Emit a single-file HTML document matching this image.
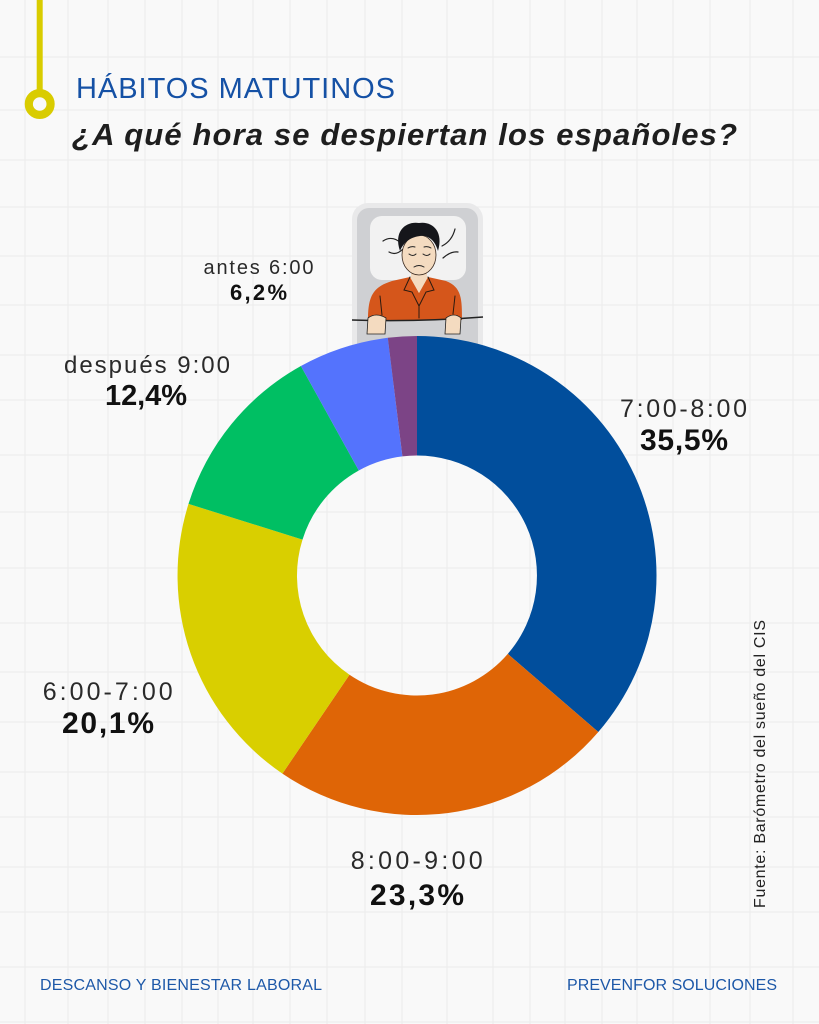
<!DOCTYPE html>
<html><head><meta charset="utf-8"><style>
html,body{margin:0;padding:0;background:#f9f9f9;}
svg{display:block;}
</style></head><body>
<svg width="819" height="1024" viewBox="0 0 819 1024" xmlns="http://www.w3.org/2000/svg">
<rect x="0" y="0" width="819" height="1024" fill="#f9f9f9"/>
<g stroke="#ececec" stroke-width="1">
<line x1="25" y1="0" x2="25" y2="1024"/><line x1="68" y1="0" x2="68" y2="1024"/><line x1="108" y1="0" x2="108" y2="1024"/><line x1="145" y1="0" x2="145" y2="1024"/><line x1="182" y1="0" x2="182" y2="1024"/><line x1="218" y1="0" x2="218" y2="1024"/><line x1="253" y1="0" x2="253" y2="1024"/><line x1="290" y1="0" x2="290" y2="1024"/><line x1="327" y1="0" x2="327" y2="1024"/><line x1="365" y1="0" x2="365" y2="1024"/><line x1="402" y1="0" x2="402" y2="1024"/><line x1="447" y1="0" x2="447" y2="1024"/><line x1="493" y1="0" x2="493" y2="1024"/><line x1="530" y1="0" x2="530" y2="1024"/><line x1="565" y1="0" x2="565" y2="1024"/><line x1="602" y1="0" x2="602" y2="1024"/><line x1="637" y1="0" x2="637" y2="1024"/><line x1="673" y1="0" x2="673" y2="1024"/><line x1="710" y1="0" x2="710" y2="1024"/><line x1="750" y1="0" x2="750" y2="1024"/><line x1="793" y1="0" x2="793" y2="1024"/>
<line x1="0" y1="57" x2="819" y2="57"/><line x1="0" y1="110" x2="819" y2="110"/><line x1="0" y1="160" x2="819" y2="160"/><line x1="0" y1="207" x2="819" y2="207"/><line x1="0" y1="256" x2="819" y2="256"/><line x1="0" y1="305" x2="819" y2="305"/><line x1="0" y1="355" x2="819" y2="355"/><line x1="0" y1="400" x2="819" y2="400"/><line x1="0" y1="455" x2="819" y2="455"/><line x1="0" y1="512" x2="819" y2="512"/><line x1="0" y1="568" x2="819" y2="568"/><line x1="0" y1="623" x2="819" y2="623"/><line x1="0" y1="672" x2="819" y2="672"/><line x1="0" y1="722" x2="819" y2="722"/><line x1="0" y1="772" x2="819" y2="772"/><line x1="0" y1="817" x2="819" y2="817"/><line x1="0" y1="867" x2="819" y2="867"/><line x1="0" y1="912" x2="819" y2="912"/><line x1="0" y1="967" x2="819" y2="967"/><line x1="0" y1="1022" x2="819" y2="1022"/>
</g>

<!-- yellow timeline marker -->
<rect x="36.7" y="0" width="6" height="93" fill="#d9cc00"/>
<circle cx="39.7" cy="104" r="10.9" fill="#f9f9f9" stroke="#d9cc00" stroke-width="8.2"/>

<!-- titles -->
<text x="76" y="98" font-family="Liberation Sans, sans-serif" font-size="29" fill="#1551a5" textLength="319" lengthAdjust="spacing">HÁBITOS MATUTINOS</text>
<text x="72" y="145" font-family="Liberation Sans, sans-serif" font-size="31" font-weight="bold" font-style="italic" fill="#1e1e1e" textLength="665" lengthAdjust="spacing">¿A qué hora se despiertan los españoles?</text>

<!-- illustration -->
<g>
<rect x="352" y="203" width="131" height="180" rx="16" fill="#e9e9ea"/>
<rect x="357" y="208" width="121" height="175" rx="12" fill="#cfd0d3"/>
<rect x="370" y="216" width="96" height="64" rx="12" fill="#f2f2f2"/>
<g fill="none" stroke="#222" stroke-width="1.2" stroke-linecap="round">
<path d="M383,241 q9,-6 18,2"/>
<path d="M389,252 q7,4 14,-3"/>
<path d="M455,229 q-3,12 -13,17"/>
<path d="M443,258 q8,-7 15,-6"/>
</g>
<rect x="411" y="266" width="16" height="16" fill="#f4dbc0"/>
<ellipse cx="419" cy="255" rx="17" ry="20" fill="#f4dbc0" stroke="#3a2a20" stroke-width="0.8"/>
<path d="M400,251 C393,230 407,221 419,223 C432,221 444,231 438,251 C435,240 428,235 420,236 C412,237 404,241 400,251 Z" fill="#15161b"/>
<g fill="none" stroke="#222" stroke-width="1" stroke-linecap="round">
<path d="M409,254 q4,3 7,0"/>
<path d="M423,254 q4,3 7,0"/>
<path d="M414,267 q5,-3 10,0"/>
<path d="M408,248 q3,-2 7,-1"/>
<path d="M424,247 q4,-1 7,1"/>
</g>
<path d="M368,320 C368,296 373,287 392,281 L410,277 L419,293 L428,277 L446,281 C462,287 462,300 462,320 Z" fill="#d5561b"/>
<path d="M410,277 L419,293 L428,277 Z" fill="#f4dbc0"/>
<g fill="none" stroke="#2a1a10" stroke-width="1" stroke-linecap="round">
<path d="M410,277 L404,290 L412,292 L419,306"/>
<path d="M428,277 L434,290 L426,292 L419,306"/>
<path d="M419,306 L419,318"/>
<path d="M380,296 L382,315"/>
<path d="M455,296 L453,314"/>
</g>
<path d="M352,320 Q419,322 483,317" fill="none" stroke="#222" stroke-width="1.5"/>
<path d="M367,334 L368,318 Q376,312 386,318 L385,334 Z" fill="#f4dbc0" stroke="#222" stroke-width="0.8"/>
<path d="M445,334 L446,318 Q454,312 461,318 L460,334 Z" fill="#f4dbc0" stroke="#222" stroke-width="0.8"/>
</g>

<!-- donut -->
<path d="M417,336 A239.5,239.5 0 0 1 598.3,732 L507.8,653.9 A120,120 0 0 0 417,455.5 Z" fill="#014e9c"/>
<path d="M598.3,732 A239.5,239.5 0 0 1 282.4,773.6 L349.5,674.8 A120,120 0 0 0 507.8,653.9 Z" fill="#df6506"/>
<path d="M282.4,773.6 A239.5,239.5 0 0 1 188.5,503.9 L302.5,539.6 A120,120 0 0 0 349.5,674.8 Z" fill="#d9cf00"/>
<path d="M188.5,503.9 A239.5,239.5 0 0 1 300.9,366 L358.8,470.5 A120,120 0 0 0 302.5,539.6 Z" fill="#00bf63"/>
<path d="M300.9,366 A239.5,239.5 0 0 1 387.8,337.8 L402.4,456.4 A120,120 0 0 0 358.8,470.5 Z" fill="#5473fd"/>
<path d="M387.8,337.8 A239.5,239.5 0 0 1 417,336 L417,455.5 A120,120 0 0 0 402.4,456.4 Z" fill="#7c4486"/>

<!-- labels -->
<g font-family="Liberation Sans, sans-serif" fill="#2a2a2a" text-anchor="middle">
<text x="258.5" y="274" font-size="20" textLength="110" lengthAdjust="spacing">antes 6:00</text>
<text x="258.5" y="300" font-size="22" font-weight="bold" fill="#111" textLength="57" lengthAdjust="spacing">6,2%</text>
<text x="147" y="373" font-size="24" textLength="166" lengthAdjust="spacing">después 9:00</text>
<text x="146" y="405" font-size="29" font-weight="bold" fill="#111" textLength="82" lengthAdjust="spacing">12,4%</text>
<text x="683.5" y="417" font-size="25" textLength="127" lengthAdjust="spacing">7:00-8:00</text>
<text x="684" y="450" font-size="30" font-weight="bold" fill="#111" textLength="88" lengthAdjust="spacing">35,5%</text>
<text x="107.7" y="700" font-size="25" textLength="130" lengthAdjust="spacing">6:00-7:00</text>
<text x="108" y="733" font-size="30" font-weight="bold" fill="#111" textLength="92" lengthAdjust="spacing">20,1%</text>
<text x="416.7" y="869" font-size="25" textLength="132" lengthAdjust="spacing">8:00-9:00</text>
<text x="417" y="905" font-size="30" font-weight="bold" fill="#111" textLength="94" lengthAdjust="spacing">23,3%</text>
</g>

<!-- source -->
<text transform="translate(765,764) rotate(-90)" x="0" y="0" text-anchor="middle" font-family="Liberation Sans, sans-serif" font-size="16" fill="#222" textLength="288" lengthAdjust="spacing">Fuente: Barómetro del sueño del CIS</text>

<!-- footer -->
<text x="40" y="990" font-family="Liberation Sans, sans-serif" font-size="16" fill="#1d58a8" textLength="282" lengthAdjust="spacing">DESCANSO Y BIENESTAR LABORAL</text>
<text x="777" y="990" text-anchor="end" font-family="Liberation Sans, sans-serif" font-size="16" fill="#1d58a8" textLength="210" lengthAdjust="spacing">PREVENFOR SOLUCIONES</text>
</svg>
</body></html>
